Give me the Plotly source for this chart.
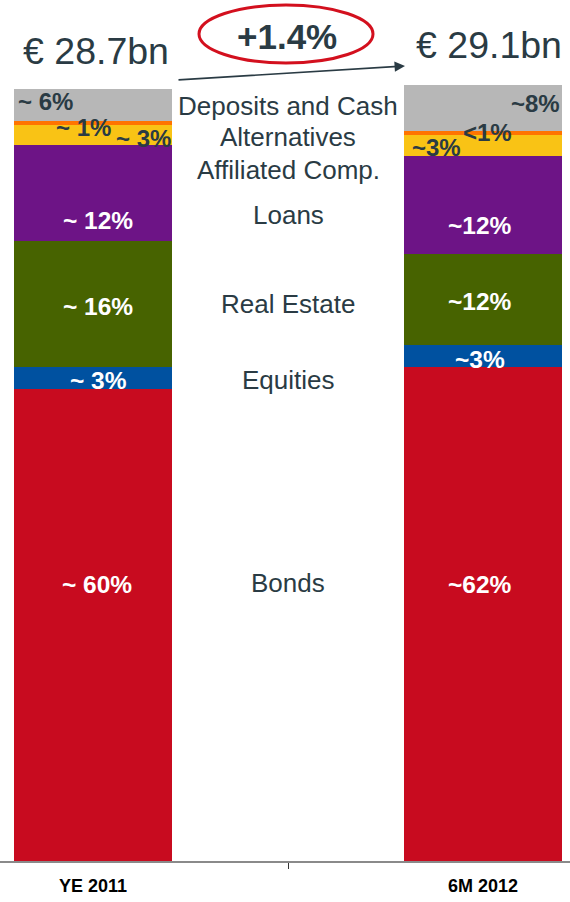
import plotly.graph_objects as go

# ---- data ----
periods = ["YE 2011", "6M 2012"]
segments = ["Bonds", "Equities", "Real Estate", "Loans", "Affiliated Comp.", "Alternatives", "Deposits and Cash"]
colors = ["#c80b1f", "#0051a0", "#476300", "#6d1486", "#f9c315", "#ff7400", "#b7b7b7"]
# approximate volumes in EUR bn
ye2011 = [17.70, 0.82, 4.72, 3.60, 0.75, 0.15, 1.20]
m6_2012 = [18.52, 0.82, 3.41, 3.67, 0.82, 0.15, 1.69]
labels_2011 = ["~ 60%", "~ 3%", "~ 16%", "~ 12%", "~ 3%", "~ 1%", "~ 6%"]
labels_2012 = ["~62%", "~3%", "~12%", "~12%", "~3%", "<1%", "~8%"]
totals = ["€ 28.7bn", "€ 29.1bn"]
growth = "+1.4%"

DARK = "#2a3b44"
FONT = "Liberation Sans, Arial, sans-serif"
W, H, BOTTOM = 570, 902, 861
PX_PER_BN = 26.67

fig = go.Figure()
for i, seg in enumerate(segments):
    fig.add_trace(go.Bar(
        x=[0, 1], y=[ye2011[i], m6_2012[i]], name=seg,
        marker=dict(color=colors[i], line=dict(width=0)),
        width=0.403, showlegend=False, hoverinfo="name+y",
    ))


def px(xp):
    return xp / W


def py(yp):
    return (BOTTOM - yp) / BOTTOM


ann = []


def txt(text, x, y, size, color=DARK, bold=False, xanchor="center"):
    ann.append(dict(text=f"<b>{text}</b>" if bold else text, x=px(x), y=py(y),
                    xref="paper", yref="paper", showarrow=False, xanchor=xanchor,
                    yanchor="middle", font=dict(family=FONT, size=size, color=color)))


# bar labels, left bar
txt(labels_2011[6], 16, 101, 24, DARK, True, "left")
txt(labels_2011[5], 54, 127, 24, DARK, True, "left")
txt(labels_2011[4], 114, 138, 24, DARK, True, "left")
txt(labels_2011[3], 98, 220, 24.5, "white", True)
txt(labels_2011[2], 98, 307, 24.5, "white", True)
txt(labels_2011[1], 98, 380, 24.5, "white", True)
txt(labels_2011[0], 97, 584, 24.5, "white", True)
# bar labels, right bar
txt(labels_2012[6], 562, 103, 24, DARK, True, "right")
txt(labels_2012[5], 461, 133, 24, DARK, True, "left")
txt(labels_2012[4], 410, 147, 24, DARK, True, "left")
txt(labels_2012[3], 480, 226, 24.5, "white", True)
txt(labels_2012[2], 480, 301, 24.5, "white", True)
txt(labels_2012[1], 480, 359, 24.5, "white", True)
txt(labels_2012[0], 480, 584, 24.5, "white", True)

# center category labels
center_y = [583, 380, 304, 215, 170, 137, 106]
for seg, yy in zip(segments, center_y):
    txt(seg, 288, yy, 26)

# totals and growth
txt(totals[0], 96, 51, 37.5)
txt(totals[1], 489, 45, 37.5)
txt(growth, 287, 37, 35, DARK, True)

# arrow
ann.append(dict(text="", x=px(405), y=py(66), xref="paper", yref="paper",
                ax=-228, ay=14, showarrow=True, arrowhead=2, arrowsize=1.3,
                arrowwidth=1.6, arrowcolor=DARK))

fig.update_layout(
    annotations=ann,
    shapes=[dict(type="circle", xref="paper", yref="paper",
                 x0=px(199), x1=px(373), y0=py(63), y1=py(5),
                 line=dict(color="#d3101e", width=3))],
    barmode="stack",
    width=W, height=H,
    margin=dict(l=0, r=0, t=0, b=H - BOTTOM),
    paper_bgcolor="white", plot_bgcolor="white",
    xaxis=dict(range=[-93 / 390, 1 + 87 / 390], tickvals=[0, 1],
               ticktext=[f"<b>{p}</b>" for p in periods],
               tickfont=dict(family=FONT, size=18, color="black"),
               ticks="", showline=True, linecolor="#8a8a8a", linewidth=1.5,
               showgrid=False, zeroline=False, ticklabelstandoff=8,
               minor=dict(tickmode="array", tickvals=[0.5], ticks="outside",
                          ticklen=6, tickwidth=1, tickcolor="#333333", showgrid=False)),
    yaxis=dict(range=[0, BOTTOM / PX_PER_BN], visible=False, showgrid=False, zeroline=False),
)

fig.write_html("out.html", config={"displayModeBar": False},
               post_script="document.body.style.margin='0px';document.body.style.overflow='hidden';")
